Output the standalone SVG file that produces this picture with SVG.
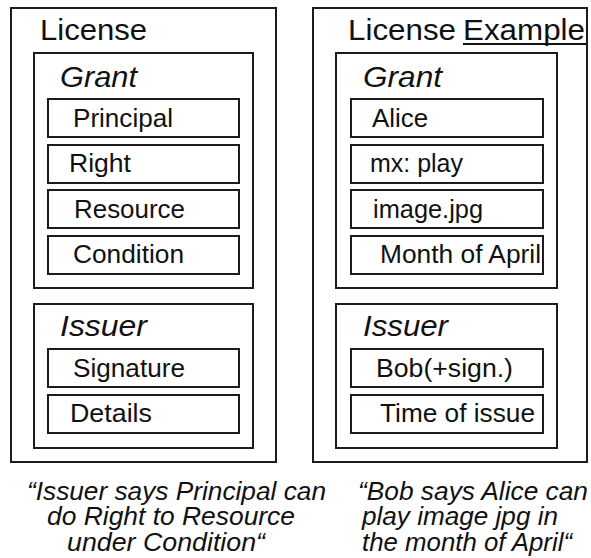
<svg xmlns="http://www.w3.org/2000/svg" width="591" height="558" viewBox="0 0 591 558">
<style>
rect{fill:none;stroke:#1c1c1c;stroke-width:2}
text{font-family:"Liberation Sans",Arial,sans-serif;fill:#111}
.h{font-size:30px}
.i{font-style:italic}
.t{font-size:26px}
.c{font-size:25px;font-style:italic}
</style>
<rect x="0" y="0" width="591" height="558" style="fill:#fff;stroke:none"/>
<g id="license">
<rect x="11" y="8" width="265" height="454"/>
<text class="h" x="40" y="40" textLength="107" lengthAdjust="spacingAndGlyphs">License</text>
</g>
<g id="grant">
<rect x="34" y="53" width="219" height="235"/>
<text class="h i" x="60" y="87" textLength="77" lengthAdjust="spacingAndGlyphs">Grant</text>
</g>
<g id="principal">
<rect x="48" y="99" width="191" height="38"/>
<text class="t" x="73" y="127" textLength="100" lengthAdjust="spacingAndGlyphs">Principal</text>
</g>
<g id="right">
<rect x="48" y="145" width="191" height="38"/>
<text class="t" x="69" y="172" textLength="62" lengthAdjust="spacingAndGlyphs">Right</text>
</g>
<g id="resource">
<rect x="48" y="190" width="191" height="38"/>
<text class="t" x="74" y="218" textLength="111" lengthAdjust="spacingAndGlyphs">Resource</text>
</g>
<g id="condition">
<rect x="48" y="236" width="191" height="38"/>
<text class="t" x="73" y="263" textLength="111" lengthAdjust="spacingAndGlyphs">Condition</text>
</g>
<g id="issuer">
<rect x="34" y="304" width="219" height="144"/>
<text class="h i" x="60" y="336" textLength="87" lengthAdjust="spacingAndGlyphs">Issuer</text>
</g>
<g id="signature">
<rect x="48" y="349" width="191" height="38"/>
<text class="t" x="73" y="377" textLength="112" lengthAdjust="spacingAndGlyphs">Signature</text>
</g>
<g id="details">
<rect x="48" y="395" width="191" height="38"/>
<text class="t" x="70" y="422" textLength="82" lengthAdjust="spacingAndGlyphs">Details</text>
</g>
<g id="license-example">
<rect x="313" y="8" width="274" height="454"/>
<text class="h" x="348" y="40" textLength="108" lengthAdjust="spacingAndGlyphs">License</text>
<text class="h" x="463" y="40" textLength="122" lengthAdjust="spacingAndGlyphs">Example</text>
<line x1="463" y1="44" x2="586" y2="44" stroke="#111" stroke-width="2"/>
</g>
<g id="grant-example">
<rect x="336" y="53" width="221" height="235"/>
<text class="h i" x="363" y="87" textLength="79" lengthAdjust="spacingAndGlyphs">Grant</text>
</g>
<g id="alice">
<rect x="351" y="99" width="192" height="38"/>
<text class="t" x="372" y="127" textLength="56" lengthAdjust="spacingAndGlyphs">Alice</text>
</g>
<g id="mxplay">
<rect x="351" y="145" width="192" height="38"/>
<text class="t" x="370" y="172" textLength="93" lengthAdjust="spacingAndGlyphs">mx: play</text>
</g>
<g id="imagejpg">
<rect x="351" y="190" width="192" height="38"/>
<text class="t" x="373" y="218" textLength="110" lengthAdjust="spacingAndGlyphs">image.jpg</text>
</g>
<g id="april">
<rect x="351" y="236" width="192" height="38"/>
<text class="t" x="380" y="263" textLength="161" lengthAdjust="spacingAndGlyphs">Month of April</text>
</g>
<g id="issuer-example">
<rect x="336" y="304" width="221" height="144"/>
<text class="h i" x="363" y="336" textLength="85" lengthAdjust="spacingAndGlyphs">Issuer</text>
</g>
<g id="bob">
<rect x="351" y="349" width="192" height="38"/>
<text class="t" x="376" y="377" textLength="137" lengthAdjust="spacingAndGlyphs">Bob(+sign.)</text>
</g>
<g id="time">
<rect x="351" y="395" width="192" height="38"/>
<text class="t" x="380" y="422" textLength="155" lengthAdjust="spacingAndGlyphs">Time of issue</text>
</g>
<g id="caption-left">
<text class="c" x="27" y="500" textLength="299" lengthAdjust="spacingAndGlyphs">“Issuer says Principal can</text>
<text class="c" x="47" y="525" textLength="248" lengthAdjust="spacingAndGlyphs">do Right to Resource</text>
<text class="c" x="67" y="551" textLength="198" lengthAdjust="spacingAndGlyphs">under Condition“</text>
</g>
<g id="caption-right">
<text class="c" x="358" y="500" textLength="230" lengthAdjust="spacingAndGlyphs">“Bob says Alice can</text>
<text class="c" x="362" y="525" textLength="196" lengthAdjust="spacingAndGlyphs">play image jpg in</text>
<text class="c" x="362" y="551" textLength="210" lengthAdjust="spacingAndGlyphs">the month of April“</text>
</g>
</svg>
